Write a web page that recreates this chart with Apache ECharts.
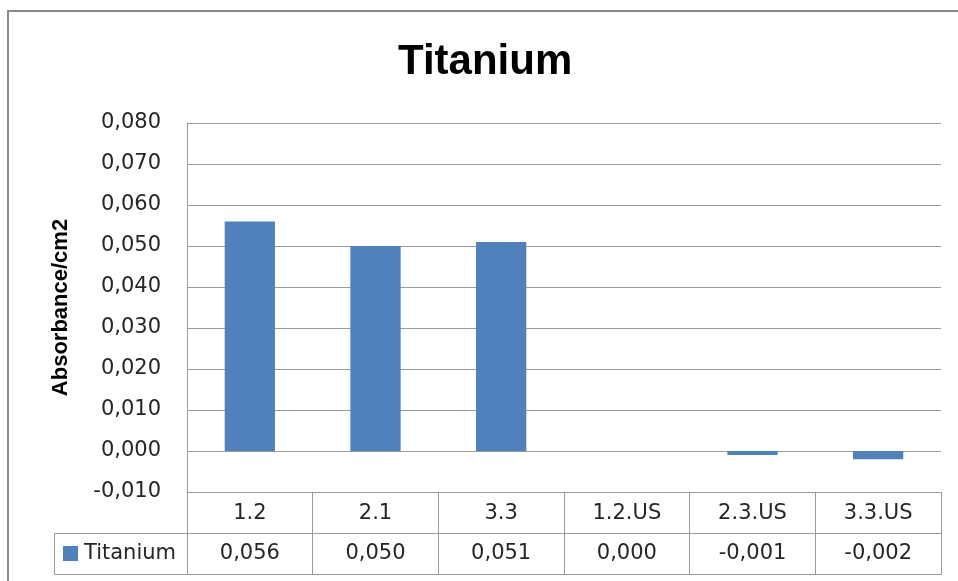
<!DOCTYPE html>
<html>
<head>
<meta charset="utf-8">
<title>Titanium</title>
<script src="https://cdn.jsdelivr.net/npm/echarts/dist/echarts.min.js"></script>
<style>
  html, body { margin: 0; padding: 0; background: #fff; }
  #chart { width: 958px; height: 581px; }
</style>
</head>
<body>
<div id="chart"></div>
<script>
// Samples and measured absorbance per cm2
const categories = ['1.2', '2.1', '3.3', '1.2.US', '2.3.US', '3.3.US'];
const seriesName = 'Titanium';
const titaniumValues = [0.056, 0.050, 0.051, 0.000, -0.001, -0.002];

// Value axis range
const axisMin = -0.01;
const axisMax = 0.08;
const axisStep = 0.01;

// Decimal comma, three decimals
function fmt(v) {
  let s = Number(v).toFixed(3);
  if (s === '-0.000') s = '0.000';
  return s.replace('.', ',');
}

// Layout
const W = 958, H = 581;
const plotLeft = 187, plotRight = 941, plotTop = 123, plotBottom = 492;
const rowH = 41;
const legendCellLeft = 54;
const lineColor = '#9a9a9a';
const textColor = '#262626';
const bodyFont = 'DejaVu Sans';
const bodySize = 21;

const chart = echarts.init(document.getElementById('chart'), null, { renderer: 'canvas' });

const option = {
  animation: false,
  backgroundColor: '#fff',
  title: {
    text: seriesName,
    left: 398,
    top: 41,
    padding: 0,
    textStyle: {
      fontFamily: 'Liberation Sans',
      fontWeight: 'bold',
      fontSize: 42,
      color: '#000'
    }
  },
  legend: {
    data: [seriesName],
    left: 63,
    top: 543,
    padding: 0,
    icon: 'rect',
    itemWidth: 15,
    itemHeight: 15,
    itemGap: 0,
    selectedMode: false,
    textStyle: { fontFamily: bodyFont, fontSize: bodySize, color: textColor, padding: [0, 0, 0, 1] }
  },
  grid: {
    left: plotLeft,
    right: W - plotRight,
    top: plotTop,
    bottom: H - plotBottom,
    containLabel: false
  },
  xAxis: [
    {
      type: 'category',
      data: categories,
      position: 'bottom',
      axisLine: { show: true, onZero: false, lineStyle: { color: lineColor, width: 1 } },
      axisTick: { show: true, interval: 0, alignWithLabel: false, length: rowH * 2, lineStyle: { color: lineColor } },
      axisLabel: {
        interval: 0,
        margin: rowH / 2 + 1,
        verticalAlign: 'middle',
        fontFamily: bodyFont,
        fontSize: bodySize,
        color: textColor
      },
      splitLine: { show: false }
    },
    {
      type: 'category',
      data: categories,
      position: 'bottom',
      offset: rowH,
      axisLine: { show: true, onZero: false, lineStyle: { color: lineColor, width: 1 } },
      axisTick: { show: false },
      axisLabel: {
        interval: 0,
        margin: rowH / 2,
        verticalAlign: 'middle',
        fontFamily: bodyFont,
        fontSize: bodySize,
        color: textColor,
        formatter: function (v, i) { return fmt(titaniumValues[i]); }
      },
      splitLine: { show: false }
    }
  ],
  yAxis: {
    type: 'value',
    min: axisMin,
    max: axisMax,
    interval: axisStep,
    name: 'Absorbance/cm2',
    nameLocation: 'middle',
    nameRotate: 90,
    nameGap: 115,
    nameTextStyle: {
      fontFamily: 'Liberation Sans',
      fontWeight: 'bold',
      fontSize: 22,
      color: '#000'
    },
    axisLine: { show: true, lineStyle: { color: lineColor, width: 1 } },
    axisTick: { show: false },
    axisLabel: {
      margin: 26,
      fontFamily: bodyFont,
      fontSize: bodySize,
      color: textColor,
      formatter: function (v) { return fmt(v); }
    },
    splitLine: { show: true, lineStyle: { color: lineColor, width: 1 } }
  },
  series: [
    {
      name: seriesName,
      type: 'bar',
      xAxisIndex: 0,
      data: titaniumValues,
      barWidth: '40%',
      itemStyle: { color: '#4F81BD' }
    }
  ],
  graphic: [
    // chart frame
    {
      type: 'rect',
      shape: { x: 8, y: 11, width: W + 20, height: H + 20 },
      style: { fill: 'none', stroke: '#8a8a8a', lineWidth: 2 },
      silent: true,
      z: 100
    },
    // legend cell of the data table
    {
      type: 'rect',
      shape: { x: legendCellLeft + 0.5, y: plotBottom + rowH + 0.5, width: plotLeft - legendCellLeft, height: rowH },
      style: { fill: 'none', stroke: lineColor, lineWidth: 1 },
      silent: true
    },
    // bottom edge of the data table
    {
      type: 'line',
      shape: { x1: plotLeft, y1: plotBottom + rowH * 2 + 0.5, x2: plotRight + 1, y2: plotBottom + rowH * 2 + 0.5 },
      style: { stroke: lineColor, lineWidth: 1 },
      silent: true
    }
  ]
};

chart.setOption(option);
</script>
</body>
</html>
